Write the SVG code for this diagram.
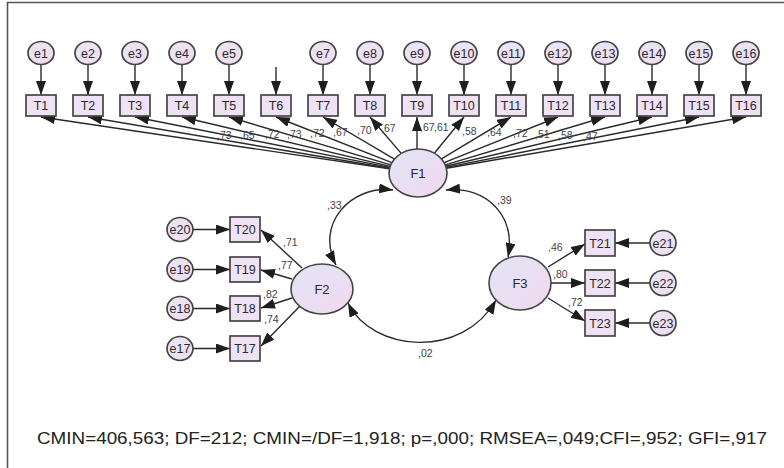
<svg xmlns="http://www.w3.org/2000/svg" width="784" height="468" viewBox="0 0 784 468">
<style>
.box{fill:#efe2f5;stroke:#454545;stroke-width:1.7}
.err{fill:url(#gE);stroke:#454545;stroke-width:1.7}
.lat{fill:url(#gF);stroke:#454545;stroke-width:1.6}
.lbl{font-family:"Liberation Sans",Arial,sans-serif;font-size:12.5px;fill:#2a2a2a;text-anchor:middle}
.lf{font-family:"Liberation Sans",Arial,sans-serif;font-size:13px;fill:#2a2a2a;text-anchor:middle}
.w{font-family:"Liberation Sans",Arial,sans-serif;font-size:10.5px;fill:#444}
.c line,.c path{stroke:#2a2a2a;stroke-width:1.4;fill:none}
.a{marker-end:url(#ah)}
.d{marker-start:url(#ah);marker-end:url(#ah)}
</style>
<defs>
<linearGradient id="gE" x1="0" y1="0" x2="1" y2="1"><stop offset="0" stop-color="#e8e6f4"/><stop offset="1" stop-color="#f1dcf0"/></linearGradient>
<linearGradient id="gF" x1="0" y1="0" x2="1" y2="1"><stop offset="0" stop-color="#e1e5f5"/><stop offset="1" stop-color="#f2d8ef"/></linearGradient>
<marker id="ah" markerUnits="userSpaceOnUse" viewBox="0 0 14 10" markerWidth="14" markerHeight="10" refX="14" refY="5" orient="auto-start-reverse"><path d="M0,0 L14,5 L0,10 z" fill="#1e1e1e"/></marker>
</defs>
<rect x="0" y="0" width="784" height="468" fill="#ffffff"/>
<path d="M7.5,468 V2.5 H784" fill="none" stroke="#555" stroke-width="1.6"/>

<g id="connectors" class="c">
<line class="a" x1="41" y1="64.5" x2="41" y2="95"/>
<line class="a" x1="88" y1="64.5" x2="88" y2="95"/>
<line class="a" x1="135" y1="64.5" x2="135" y2="95"/>
<line class="a" x1="182" y1="64.5" x2="182" y2="95"/>
<line class="a" x1="229" y1="64.5" x2="229" y2="95"/>
<line class="a" x1="276" y1="67" x2="276" y2="95"/>
<line class="a" x1="323" y1="64.5" x2="323" y2="95"/>
<line class="a" x1="370" y1="64.5" x2="370" y2="95"/>
<line class="a" x1="417" y1="64.5" x2="417" y2="95"/>
<line class="a" x1="464" y1="64.5" x2="464" y2="95"/>
<line class="a" x1="511" y1="64.5" x2="511" y2="95"/>
<line class="a" x1="558" y1="64.5" x2="558" y2="95"/>
<line class="a" x1="605" y1="64.5" x2="605" y2="95"/>
<line class="a" x1="652" y1="64.5" x2="652" y2="95"/>
<line class="a" x1="699" y1="64.5" x2="699" y2="95"/>
<line class="a" x1="746" y1="64.5" x2="746" y2="95"/>

<line class="a" x1="389.5" y1="168.8" x2="41" y2="117"/>
<line class="a" x1="389.6" y1="168.2" x2="88" y2="117"/>
<line class="a" x1="389.8" y1="167.4" x2="135" y2="117"/>
<line class="a" x1="390.1" y1="166.4" x2="182" y2="117"/>
<line class="a" x1="390.7" y1="164.9" x2="229" y2="117"/>
<line class="a" x1="391.8" y1="162.7" x2="276" y2="117"/>
<line class="a" x1="394.4" y1="159.1" x2="323" y2="117"/>
<line class="a" x1="401.2" y1="153.4" x2="370" y2="117"/>
<line class="a" x1="417" y1="149" x2="417" y2="117"/>
<line class="a" x1="434.3" y1="153.2" x2="464" y2="117"/>
<line class="a" x1="441.4" y1="158.9" x2="511" y2="117"/>
<line class="a" x1="444.1" y1="162.6" x2="558" y2="117"/>
<line class="a" x1="445.3" y1="164.8" x2="605" y2="117"/>
<line class="a" x1="445.9" y1="166.3" x2="652" y2="117"/>
<line class="a" x1="446.2" y1="167.4" x2="699" y2="117"/>
<line class="a" x1="446.4" y1="168.2" x2="746" y2="117"/>

<line class="a" x1="193" y1="229.5" x2="230" y2="229.5"/>
<line class="a" x1="193" y1="269.5" x2="230" y2="269.5"/>
<line class="a" x1="193" y1="308.5" x2="230" y2="308.5"/>
<line class="a" x1="193" y1="348.5" x2="230" y2="348.5"/>
<line class="a" x1="302" y1="268" x2="261" y2="230"/>
<line class="a" x1="292" y1="279" x2="261" y2="270"/>
<line class="a" x1="292" y1="298" x2="261" y2="308"/>
<line class="a" x1="300" y1="306" x2="261" y2="346"/>

<line class="a" x1="548" y1="267" x2="585" y2="244"/>
<line class="a" x1="551" y1="283" x2="585" y2="283"/>
<line class="a" x1="548" y1="298" x2="585" y2="321"/>
<line class="a" x1="650" y1="243" x2="615" y2="243"/>
<line class="a" x1="650" y1="283" x2="615" y2="283"/>
<line class="a" x1="650" y1="323" x2="615" y2="323"/>

<path class="d" d="M393,190 C350,185 315,225 336,265"/>
<path class="d" d="M446,190 C486,186 516,215 508,257"/>
<path class="d" d="M348,303 C372,352 462,360 496,300"/>
</g>

<g id="e1"><ellipse class="err" cx="41" cy="53" rx="13" ry="11.5"/><text class="lbl" x="41" y="57.5">e1</text></g>
<g id="e2"><ellipse class="err" cx="88" cy="53" rx="13" ry="11.5"/><text class="lbl" x="88" y="57.5">e2</text></g>
<g id="e3"><ellipse class="err" cx="135" cy="53" rx="13" ry="11.5"/><text class="lbl" x="135" y="57.5">e3</text></g>
<g id="e4"><ellipse class="err" cx="182" cy="53" rx="13" ry="11.5"/><text class="lbl" x="182" y="57.5">e4</text></g>
<g id="e5"><ellipse class="err" cx="229" cy="53" rx="13" ry="11.5"/><text class="lbl" x="229" y="57.5">e5</text></g>
<g id="e7"><ellipse class="err" cx="323" cy="53" rx="13" ry="11.5"/><text class="lbl" x="323" y="57.5">e7</text></g>
<g id="e8"><ellipse class="err" cx="370" cy="53" rx="13" ry="11.5"/><text class="lbl" x="370" y="57.5">e8</text></g>
<g id="e9"><ellipse class="err" cx="417" cy="53" rx="13" ry="11.5"/><text class="lbl" x="417" y="57.5">e9</text></g>
<g id="e10"><ellipse class="err" cx="464" cy="53" rx="13" ry="11.5"/><text class="lbl" x="464" y="57.5">e10</text></g>
<g id="e11"><ellipse class="err" cx="511" cy="53" rx="13" ry="11.5"/><text class="lbl" x="511" y="57.5">e11</text></g>
<g id="e12"><ellipse class="err" cx="558" cy="53" rx="13" ry="11.5"/><text class="lbl" x="558" y="57.5">e12</text></g>
<g id="e13"><ellipse class="err" cx="605" cy="53" rx="13" ry="11.5"/><text class="lbl" x="605" y="57.5">e13</text></g>
<g id="e14"><ellipse class="err" cx="652" cy="53" rx="13" ry="11.5"/><text class="lbl" x="652" y="57.5">e14</text></g>
<g id="e15"><ellipse class="err" cx="699" cy="53" rx="13" ry="11.5"/><text class="lbl" x="699" y="57.5">e15</text></g>
<g id="e16"><ellipse class="err" cx="746" cy="53" rx="13" ry="11.5"/><text class="lbl" x="746" y="57.5">e16</text></g>

<g id="T1"><rect class="box" x="26" y="95" width="30" height="21"/><text class="lbl" x="41" y="110">T1</text></g>
<g id="T2"><rect class="box" x="73" y="95" width="30" height="21"/><text class="lbl" x="88" y="110">T2</text></g>
<g id="T3"><rect class="box" x="120" y="95" width="30" height="21"/><text class="lbl" x="135" y="110">T3</text></g>
<g id="T4"><rect class="box" x="167" y="95" width="30" height="21"/><text class="lbl" x="182" y="110">T4</text></g>
<g id="T5"><rect class="box" x="214" y="95" width="30" height="21"/><text class="lbl" x="229" y="110">T5</text></g>
<g id="T6"><rect class="box" x="261" y="95" width="30" height="21"/><text class="lbl" x="276" y="110">T6</text></g>
<g id="T7"><rect class="box" x="308" y="95" width="30" height="21"/><text class="lbl" x="323" y="110">T7</text></g>
<g id="T8"><rect class="box" x="355" y="95" width="30" height="21"/><text class="lbl" x="370" y="110">T8</text></g>
<g id="T9"><rect class="box" x="402" y="95" width="30" height="21"/><text class="lbl" x="417" y="110">T9</text></g>
<g id="T10"><rect class="box" x="449" y="95" width="30" height="21"/><text class="lbl" x="464" y="110">T10</text></g>
<g id="T11"><rect class="box" x="496" y="95" width="30" height="21"/><text class="lbl" x="511" y="110">T11</text></g>
<g id="T12"><rect class="box" x="543" y="95" width="30" height="21"/><text class="lbl" x="558" y="110">T12</text></g>
<g id="T13"><rect class="box" x="590" y="95" width="30" height="21"/><text class="lbl" x="605" y="110">T13</text></g>
<g id="T14"><rect class="box" x="637" y="95" width="30" height="21"/><text class="lbl" x="652" y="110">T14</text></g>
<g id="T15"><rect class="box" x="684" y="95" width="30" height="21"/><text class="lbl" x="699" y="110">T15</text></g>
<g id="T16"><rect class="box" x="731" y="95" width="30" height="21"/><text class="lbl" x="746" y="110">T16</text></g>

<g id="F1"><ellipse class="lat" cx="418" cy="173" rx="29" ry="24"/><text class="lf" x="418" y="177.5">F1</text></g>
<g id="F2"><ellipse class="lat" cx="322" cy="289" rx="31" ry="25"/><text class="lf" x="322" y="293.5">F2</text></g>
<g id="F3"><ellipse class="lat" cx="520" cy="283" rx="31" ry="27"/><text class="lf" x="520" y="287.5">F3</text></g>

<g id="T20"><rect class="box" x="230" y="217" width="30" height="25"/><text class="lbl" x="245" y="234">T20</text></g>
<g id="T19"><rect class="box" x="230" y="257" width="30" height="25"/><text class="lbl" x="245" y="274">T19</text></g>
<g id="T18"><rect class="box" x="230" y="296" width="30" height="25"/><text class="lbl" x="245" y="313">T18</text></g>
<g id="T17"><rect class="box" x="230" y="336" width="30" height="25"/><text class="lbl" x="245" y="353">T17</text></g>
<g id="e20"><ellipse class="err" cx="180" cy="229.5" rx="13" ry="12"/><text class="lbl" x="180" y="234">e20</text></g>
<g id="e19"><ellipse class="err" cx="180" cy="269.5" rx="13" ry="12"/><text class="lbl" x="180" y="274">e19</text></g>
<g id="e18"><ellipse class="err" cx="180" cy="308.5" rx="13" ry="12"/><text class="lbl" x="180" y="313">e18</text></g>
<g id="e17"><ellipse class="err" cx="180" cy="348.5" rx="13" ry="12"/><text class="lbl" x="180" y="353">e17</text></g>

<g id="T21"><rect class="box" x="585" y="230" width="30" height="26"/><text class="lbl" x="600" y="247.5">T21</text></g>
<g id="T22"><rect class="box" x="585" y="270" width="30" height="26"/><text class="lbl" x="600" y="287.5">T22</text></g>
<g id="T23"><rect class="box" x="585" y="310" width="30" height="26"/><text class="lbl" x="600" y="327.5">T23</text></g>
<g id="e21"><ellipse class="err" cx="663" cy="243" rx="13" ry="12.5"/><text class="lbl" x="663" y="247.5">e21</text></g>
<g id="e22"><ellipse class="err" cx="663" cy="283" rx="13" ry="12.5"/><text class="lbl" x="663" y="287.5">e22</text></g>
<g id="e23"><ellipse class="err" cx="663" cy="323" rx="13" ry="12.5"/><text class="lbl" x="663" y="327.5">e23</text></g>

<g id="weights">
<text class="w" x="217" y="139">,73</text>
<text class="w" x="240" y="139">,65</text>
<text class="w" x="265" y="138">,72</text>
<text class="w" x="287" y="138">,73</text>
<text class="w" x="310" y="137">,72</text>
<text class="w" x="333" y="136">,67</text>
<text class="w" x="357" y="134">,70</text>
<text class="w" x="381" y="132">,67</text>
<text class="w" x="420" y="131">,67</text>
<text class="w" x="434" y="131">,61</text>
<text class="w" x="462" y="135">,58</text>
<text class="w" x="487" y="136">,64</text>
<text class="w" x="513" y="137">,72</text>
<text class="w" x="535" y="138">,51</text>
<text class="w" x="558" y="139">,58</text>
<text class="w" x="583" y="140">,47</text>
<text class="w" x="283" y="246">,71</text>
<text class="w" x="278" y="269">,77</text>
<text class="w" x="263" y="298">,82</text>
<text class="w" x="264" y="323">,74</text>
<text class="w" x="548" y="251">,46</text>
<text class="w" x="553" y="278">,80</text>
<text class="w" x="568" y="306">,72</text>
<text class="w" x="327" y="209">,33</text>
<text class="w" x="497" y="204">,39</text>
<text class="w" x="418" y="357">,02</text>
</g>

<text x="37" y="444" font-family="Liberation Sans, Arial, sans-serif" font-size="17" fill="#222" textLength="730" lengthAdjust="spacingAndGlyphs">CMIN=406,563; DF=212; CMIN=/DF=1,918; p=,000; RMSEA=,049;CFI=,952; GFI=,917</text>
</svg>
